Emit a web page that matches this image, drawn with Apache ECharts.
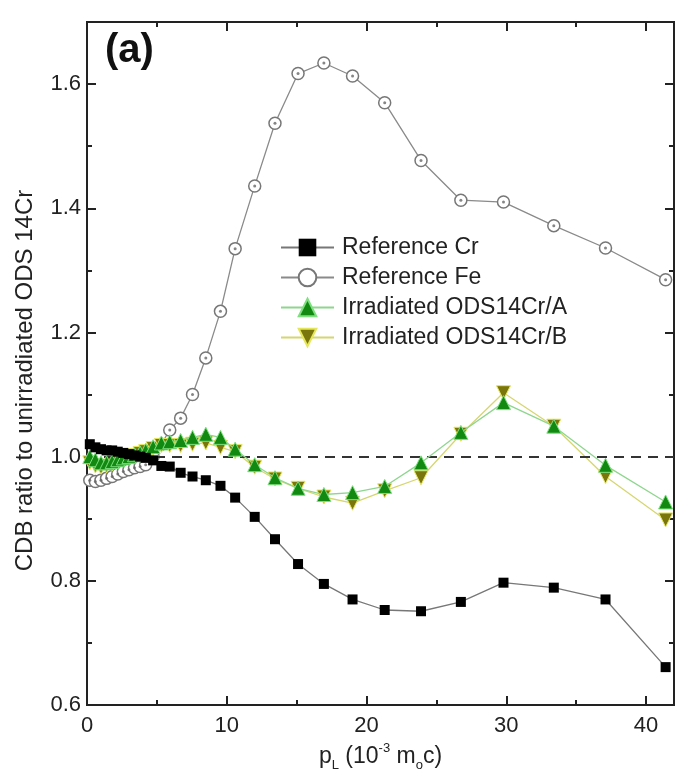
<!DOCTYPE html>
<html><head><meta charset="utf-8">
<script src="https://cdn.jsdelivr.net/npm/echarts@6/dist/echarts.min.js"></script>
<style>html,body{margin:0;padding:0;background:#fff}#c{width:677px;height:779px}</style>
</head><body><div id="c"></div>
<script>
// momentum values p_L (10^-3 m0c)
const pL = [0.2, 0.6, 1.0, 1.4, 1.8, 2.2, 2.6, 3.0, 3.4, 3.8, 4.2, 4.73, 5.32, 5.92, 6.7, 7.55, 8.5, 9.55, 10.6, 12.0, 13.45, 15.1, 16.95, 19.0, 21.3, 23.9, 26.75, 29.8, 33.4, 37.1, 41.4];
const refCr = [1.020, 1.015, 1.012, 1.010, 1.010, 1.008, 1.006, 1.004, 1.002, 1.000, 0.998, 0.994, 0.985, 0.984, 0.974, 0.968, 0.962, 0.953, 0.934, 0.903, 0.867, 0.827, 0.795, 0.770, 0.753, 0.751, 0.766, 0.797, 0.789, 0.770, 0.661];
const refFe = [0.962, 0.960, 0.962, 0.965, 0.968, 0.972, 0.976, 0.979, 0.982, 0.984, 0.987, 1.000, 1.020, 1.043, 1.062, 1.100, 1.159, 1.234, 1.335, 1.436, 1.537, 1.617, 1.634, 1.613, 1.570, 1.477, 1.413, 1.410, 1.372, 1.336, 1.285];
const odsA = [1.000, 0.995, 0.990, 0.990, 0.992, 0.995, 0.998, 1.000, 1.003, 1.006, 1.010, 1.016, 1.022, 1.024, 1.026, 1.031, 1.036, 1.031, 1.012, 0.987, 0.966, 0.949, 0.939, 0.942, 0.952, 0.990, 1.039, 1.087, 1.049, 0.986, 0.927];
const odsB = [0.990, 0.985, 0.983, 0.985, 0.988, 0.992, 0.996, 0.999, 1.002, 1.005, 1.008, 1.013, 1.018, 1.018, 1.018, 1.020, 1.022, 1.015, 1.008, 0.983, 0.964, 0.949, 0.935, 0.925, 0.945, 0.966, 1.036, 1.103, 1.049, 0.968, 0.898];
const xTicks = [0, 10, 20, 30, 40];
const yTicks = [0.6, 0.8, 1.0, 1.2, 1.4, 1.6];
const names = ['Reference Cr', 'Reference Fe', 'Irradiated ODS14Cr/A', 'Irradiated ODS14Cr/B'];
const refLine = 1.0;

const pair = ys => pL.map((x, i) => [x, ys[i]]);
const FONT = 'Liberation Sans';
const AX = '#222';

function xAx(pos, major, withLabel) {
  const a = {
    type: 'value', min: 0, max: 42, interval: major ? 10 : 5, position: pos,
    axisLine: { show: true, onZero: false, lineStyle: { color: AX, width: 2 } },
    axisTick: { show: true, inside: true, length: major ? 9 : 5, lineStyle: { color: AX, width: 2 } },
    splitLine: { show: false },
    axisLabel: { show: withLabel, fontSize: 22, color: AX, margin: 10, fontFamily: FONT,
      formatter: v => xTicks.indexOf(v) >= 0 ? String(v) : '' }
  };
  if (withLabel) {
    a.name = '{t|p}{s|L}{t| (10}{u|-3}{t| m}{s|o}{t|c)}';
    a.nameLocation = 'middle';
    a.nameGap = 34;
    a.nameTextStyle = { fontFamily: FONT, color: AX, rich: {
      t: { fontSize: 23, fontFamily: FONT, color: AX, lineHeight: 30, verticalAlign: 'middle' },
      s: { fontSize: 13, fontFamily: FONT, color: AX, lineHeight: 13, verticalAlign: 'bottom' },
      u: { fontSize: 13, fontFamily: FONT, color: AX, lineHeight: 13, verticalAlign: 'top' }
    } };
  }
  return a;
}
function yAx(pos, major, withLabel) {
  const a = {
    type: 'value', min: 0.6, max: 1.7, interval: major ? 0.2 : 0.1, position: pos,
    axisLine: { show: true, onZero: false, lineStyle: { color: AX, width: 2 } },
    axisTick: { show: true, inside: true, length: major ? 9 : 5, lineStyle: { color: AX, width: 2 } },
    splitLine: { show: false },
    axisLabel: { show: withLabel, fontSize: 22, color: AX, margin: 6, fontFamily: FONT,
      formatter: v => yTicks.some(t => Math.abs(t - v) < 1e-6) ? v.toFixed(1) : '' }
  };
  if (withLabel) {
    a.name = 'CDB ratio to unirradiated ODS 14Cr';
    a.nameLocation = 'middle';
    a.nameGap = 50;
    a.nameTextStyle = { fontSize: 24, fontFamily: FONT, color: AX, padding: [0, 34, 0, 0] };
  }
  return a;
}

const chart = echarts.init(document.getElementById('c'), null, { renderer: 'canvas' });
chart.setOption({
  animation: false,
  backgroundColor: '#fff',
  title: { text: '(a)', left: 100, top: 26, textStyle: { fontSize: 40, fontWeight: 'bold', fontFamily: FONT, color: '#111' } },
  grid: { left: 87, right: 2, top: 22, bottom: 74, containLabel: false },
  xAxis: [xAx('bottom', true, true), xAx('bottom', false, false), xAx('top', true, false), xAx('top', false, false)],
  yAxis: [yAx('left', true, true), yAx('left', false, false), yAx('right', true, false), yAx('right', false, false)],
  legend: {
    data: names, orient: 'vertical', left: 275, top: 231,
    itemWidth: 53, itemHeight: 22, itemGap: 7,
    textStyle: { fontSize: 23, fontFamily: FONT, color: AX, padding: [0, 0, 0, 3] }
  },
  series: [
    {
      name: names[1], type: 'line', data: pair(refFe), z: 2,
      symbol: 'circle', symbolSize: 12,
      itemStyle: { color: '#fff', borderColor: '#777', borderWidth: 1.5 },
      lineStyle: { color: '#8a8a8a', width: 1.3 },
      markLine: {
        silent: true, symbol: 'none', label: { show: false },
        lineStyle: { color: '#333', width: 2, type: [10, 7] },
        data: [{ yAxis: refLine }]
      }
    },
    {
      name: 'Fe centre', type: 'scatter', data: pair(refFe), z: 3, silent: true,
      symbol: 'circle', symbolSize: 3, itemStyle: { color: '#666' }
    },
    {
      name: names[3], type: 'line', data: pair(odsB), z: 4,
      symbol: 'triangle', symbolRotate: 180, symbolSize: 14,
      itemStyle: { color: '#7a750c', borderColor: '#e6e65a', borderWidth: 1 },
      lineStyle: { color: '#d6d670', width: 1.3 }
    },
    {
      name: names[2], type: 'line', data: pair(odsA), z: 5,
      symbol: 'triangle', symbolSize: 14,
      itemStyle: { color: '#128a12', borderColor: '#7ee07e', borderWidth: 1 },
      lineStyle: { color: '#8ed68e', width: 1.3 }
    },
    {
      name: names[0], type: 'line', data: pair(refCr), z: 6,
      symbol: 'rect', symbolSize: 10,
      itemStyle: { color: '#000' },
      lineStyle: { color: '#777', width: 1.3 }
    }
  ]
});
</script>
</body></html>
